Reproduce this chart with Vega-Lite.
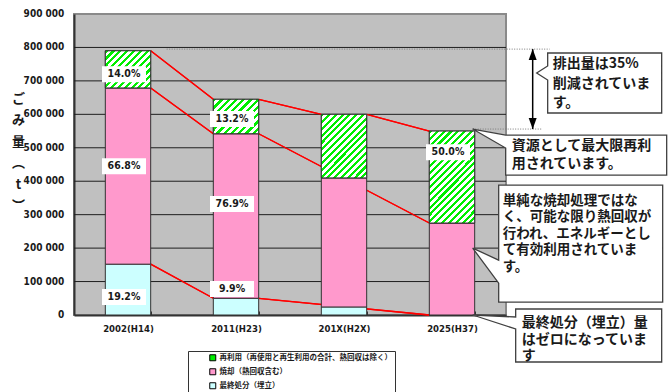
{
  "$schema": "https://vega.github.io/schema/vega-lite/v6.json",
  "width": 432,
  "height": 301,
  "autosize": {"type": "none"},
  "padding": {"left": 74, "top": 14, "right": 166, "bottom": 77},
  "background": "white",
  "title": {"text": "ごみ処理方法の推移", "font": "Noto Sans CJK JP", "fontSize": 13, "fontWeight": "bold", "color": "#1a1a1a", "anchor": "middle", "dx": 13, "offset": 9, "baseline": "bottom"},
  "datasets": {
    "ticks": [{"v": 0}, {"v": 100000}, {"v": 200000}, {"v": 300000}, {"v": 400000}, {"v": 500000}, {"v": 600000}, {"v": 700000}, {"v": 800000}, {"v": 900000}],
    "bars": [
      {"year": "2002(H14)", "type": "最終処分（埋立）", "rank": 1, "value": 152000},
      {"year": "2002(H14)", "type": "焼却（熱回収含む）", "rank": 2, "value": 527000},
      {"year": "2002(H14)", "type": "再利用（再使用と再生利用の合計、熱回収は除く）", "rank": 3, "value": 111000},
      {"year": "2011(H23)", "type": "最終処分（埋立）", "rank": 1, "value": 50000},
      {"year": "2011(H23)", "type": "焼却（熱回収含む）", "rank": 2, "value": 492000},
      {"year": "2011(H23)", "type": "再利用（再使用と再生利用の合計、熱回収は除く）", "rank": 3, "value": 103000},
      {"year": "201X(H2X)", "type": "最終処分（埋立）", "rank": 1, "value": 24000},
      {"year": "201X(H2X)", "type": "焼却（熱回収含む）", "rank": 2, "value": 386000},
      {"year": "201X(H2X)", "type": "再利用（再使用と再生利用の合計、熱回収は除く）", "rank": 3, "value": 190000},
      {"year": "2025(H37)", "type": "最終処分（埋立）", "rank": 1, "value": 0},
      {"year": "2025(H37)", "type": "焼却（熱回収含む）", "rank": 2, "value": 275000},
      {"year": "2025(H37)", "type": "再利用（再使用と再生利用の合計、熱回収は除く）", "rank": 3, "value": 275000}
    ],
    "links": [
      {"from": "2002(H14)", "to": "2011(H23)", "a": 790000, "b": 645000},
      {"from": "2011(H23)", "to": "201X(H2X)", "a": 645000, "b": 600000},
      {"from": "201X(H2X)", "to": "2025(H37)", "a": 600000, "b": 550000},
      {"from": "2002(H14)", "to": "2011(H23)", "a": 679000, "b": 542000},
      {"from": "2011(H23)", "to": "2025(H37)", "a": 542000, "b": 275000},
      {"from": "2002(H14)", "to": "2011(H23)", "a": 152000, "b": 50000},
      {"from": "2011(H23)", "to": "2025(H37)", "a": 50000, "b": 0}
    ],
    "labels": [
      {"year": "2002(H14)", "pct": "14.0%", "at": 720000},
      {"year": "2002(H14)", "pct": "66.8%", "at": 445000},
      {"year": "2002(H14)", "pct": "19.2%", "at": 54000},
      {"year": "2011(H23)", "pct": "13.2%", "at": 586000},
      {"year": "2011(H23)", "pct": "76.9%", "at": 332000},
      {"year": "2011(H23)", "pct": "9.9%", "at": 78000},
      {"year": "2025(H37)", "pct": "50.0%", "at": 487000}
    ]
  },
  "layer": [
    {
      "data": {"name": "links"},
      "mark": {"type": "rule", "color": "#ff0000", "strokeWidth": 1.3},
      "encoding": {
        "x": {"field": "from", "type": "nominal", "bandPosition": 1, "scale": {"paddingInner": 0.58, "paddingOuter": 0.29},
          "axis": {"title": null, "labelFont": "'Liberation Sans Narrow', 'DejaVu Sans Condensed', 'Liberation Sans', sans-serif", "labelFontSize": 9.5, "labelFontWeight": "bold", "labelColor": "#1a1a1a", "labelAngle": 0, "labelPadding": 12, "tickBand": "extent", "tickSize": -4, "tickColor": "#333333", "tickWidth": 1, "domainColor": "#333333", "domainWidth": 2, "grid": false}},
        "x2": {"field": "to", "bandPosition": 0},
        "y": {"field": "a", "type": "quantitative", "scale": {"domain": [0, 900000], "nice": false},
          "axis": {"labels": false, "ticks": false, "grid": false, "domainColor": "#333333", "domainWidth": 2,
            "title": ["ご", "み", "量", "︵", "t", "︶"], "titleAngle": 0, "titleX": -56, "titleY": 78, "titleAlign": "center", "titleBaseline": "top", "titleFont": "Noto Sans CJK JP", "titleFontSize": 13, "titleFontWeight": "bold", "titleLineHeight": 21.5, "titleColor": "#1a1a1a"}},
        "y2": {"field": "b"}
      }
    },
    {
      "data": {"name": "ticks"},
      "transform": [{"filter": "datum.v > 0 && datum.v < 900000"}],
      "mark": {"type": "rule", "color": "#1e1e1e", "strokeWidth": 1},
      "encoding": {"y": {"field": "v", "type": "quantitative"}}
    },
    {
      "data": {"name": "ticks"},
      "mark": {"type": "text", "align": "right", "baseline": "middle", "font": "'Liberation Sans Narrow', 'DejaVu Sans Condensed', 'Liberation Sans', sans-serif", "fontSize": 10, "fontWeight": "bold", "color": "#1a1a1a", "xOffset": -41},
      "encoding": {"x": {"datum": "2002(H14)", "type": "nominal", "bandPosition": 0}, "y": {"field": "v", "type": "quantitative"}, "text": {"field": "v", "type": "quantitative", "format": ",d"}}
    },
    {
      "data": {"name": "links"},
      "mark": {"type": "rule", "color": "#ff0000", "strokeWidth": 1.3},
      "encoding": {"x": {"field": "from", "type": "nominal", "bandPosition": 1}, "x2": {"field": "to", "bandPosition": 0}, "y": {"field": "a", "type": "quantitative"}, "y2": {"field": "b"}}
    },
    {
      "data": {"name": "bars"},
      "transform": [{"stack": "value", "groupby": ["year"], "sort": [{"field": "rank", "order": "ascending"}], "as": ["v0", "v1"]}],
      "mark": {"type": "bar", "stroke": "#333333", "strokeWidth": 1},
      "encoding": {
        "x": {"field": "year", "type": "nominal"},
        "y": {"field": "v1", "type": "quantitative"},
        "y2": {"field": "v0"},
        "color": {"field": "type", "type": "nominal",
          "scale": {"domain": ["再利用（再使用と再生利用の合計、熱回収は除く）", "焼却（熱回収含む）", "最終処分（埋立）"], "range": ["#00ee00", "#ff99cc", "#ccffff"]},
          "legend": {"title": null, "orient": "none", "legendX": 114, "legendY": 337, "direction": "vertical", "fillColor": "white", "strokeColor": "#333333", "padding": 3, "symbolType": "square", "symbolSize": 36, "symbolStrokeColor": "#000000", "symbolStrokeWidth": 1, "symbolOpacity": 1, "symbolOffset": 18, "labelFont": "Noto Sans CJK JP", "labelFontSize": 7.5, "labelFontWeight": "bold", "labelColor": "#1a1a1a", "labelLimit": 400, "rowPadding": 3, "labelOffset": 3}}
      }
    },
    {
      "data": {"name": "bars"},
      "transform": [{"stack": "value", "groupby": ["year"], "sort": [{"field": "rank", "order": "ascending"}], "as": ["v0", "v1"]}, {"filter": "datum.rank == 3 && datum.year == '2002(H14)'"}],
      "mark": {"type": "bar", "stroke": "#333333", "strokeWidth": 1, "fill": {"gradient": "linear", "x1": 0, "y1": 0, "x2": 1.092, "y2": 0.888, "stops": [
        {"offset": 0, "color": "#0e0"}, {"offset": 0.0375, "color": "#0e0"}, {"offset": 0.0375, "color": "#fff"}, {"offset": 0.0833, "color": "#fff"},
        {"offset": 0.0833, "color": "#0e0"}, {"offset": 0.1208, "color": "#0e0"}, {"offset": 0.1208, "color": "#fff"}, {"offset": 0.1667, "color": "#fff"},
        {"offset": 0.1667, "color": "#0e0"}, {"offset": 0.2042, "color": "#0e0"}, {"offset": 0.2042, "color": "#fff"}, {"offset": 0.25, "color": "#fff"},
        {"offset": 0.25, "color": "#0e0"}, {"offset": 0.2875, "color": "#0e0"}, {"offset": 0.2875, "color": "#fff"}, {"offset": 0.3333, "color": "#fff"},
        {"offset": 0.3333, "color": "#0e0"}, {"offset": 0.3708, "color": "#0e0"}, {"offset": 0.3708, "color": "#fff"}, {"offset": 0.4167, "color": "#fff"},
        {"offset": 0.4167, "color": "#0e0"}, {"offset": 0.4542, "color": "#0e0"}, {"offset": 0.4542, "color": "#fff"}, {"offset": 0.5, "color": "#fff"},
        {"offset": 0.5, "color": "#0e0"}, {"offset": 0.5375, "color": "#0e0"}, {"offset": 0.5375, "color": "#fff"}, {"offset": 0.5833, "color": "#fff"},
        {"offset": 0.5833, "color": "#0e0"}, {"offset": 0.6208, "color": "#0e0"}, {"offset": 0.6208, "color": "#fff"}, {"offset": 0.6667, "color": "#fff"},
        {"offset": 0.6667, "color": "#0e0"}, {"offset": 0.7042, "color": "#0e0"}, {"offset": 0.7042, "color": "#fff"}, {"offset": 0.75, "color": "#fff"},
        {"offset": 0.75, "color": "#0e0"}, {"offset": 0.7875, "color": "#0e0"}, {"offset": 0.7875, "color": "#fff"}, {"offset": 0.8333, "color": "#fff"},
        {"offset": 0.8333, "color": "#0e0"}, {"offset": 0.8708, "color": "#0e0"}, {"offset": 0.8708, "color": "#fff"}, {"offset": 0.9167, "color": "#fff"},
        {"offset": 0.9167, "color": "#0e0"}, {"offset": 0.9542, "color": "#0e0"}, {"offset": 0.9542, "color": "#fff"}, {"offset": 1, "color": "#fff"}]}},
      "encoding": {"x": {"field": "year", "type": "nominal"}, "y": {"field": "v1", "type": "quantitative"}, "y2": {"field": "v0"}}
    },
    {
      "data": {"name": "bars"},
      "transform": [{"stack": "value", "groupby": ["year"], "sort": [{"field": "rank", "order": "ascending"}], "as": ["v0", "v1"]}, {"filter": "datum.rank == 3 && datum.year == '2011(H23)'"}],
      "mark": {"type": "bar", "stroke": "#333333", "strokeWidth": 1, "fill": {"gradient": "linear", "x1": 0, "y1": 0, "x2": 1.118, "y2": 0.843, "stops": [
        {"offset": 0, "color": "#0e0"}, {"offset": 0.0409, "color": "#0e0"}, {"offset": 0.0409, "color": "#fff"}, {"offset": 0.0909, "color": "#fff"},
        {"offset": 0.0909, "color": "#0e0"}, {"offset": 0.1318, "color": "#0e0"}, {"offset": 0.1318, "color": "#fff"}, {"offset": 0.1818, "color": "#fff"},
        {"offset": 0.1818, "color": "#0e0"}, {"offset": 0.2227, "color": "#0e0"}, {"offset": 0.2227, "color": "#fff"}, {"offset": 0.2727, "color": "#fff"},
        {"offset": 0.2727, "color": "#0e0"}, {"offset": 0.3136, "color": "#0e0"}, {"offset": 0.3136, "color": "#fff"}, {"offset": 0.3636, "color": "#fff"},
        {"offset": 0.3636, "color": "#0e0"}, {"offset": 0.4045, "color": "#0e0"}, {"offset": 0.4045, "color": "#fff"}, {"offset": 0.4545, "color": "#fff"},
        {"offset": 0.4545, "color": "#0e0"}, {"offset": 0.4955, "color": "#0e0"}, {"offset": 0.4955, "color": "#fff"}, {"offset": 0.5455, "color": "#fff"},
        {"offset": 0.5455, "color": "#0e0"}, {"offset": 0.5864, "color": "#0e0"}, {"offset": 0.5864, "color": "#fff"}, {"offset": 0.6364, "color": "#fff"},
        {"offset": 0.6364, "color": "#0e0"}, {"offset": 0.6773, "color": "#0e0"}, {"offset": 0.6773, "color": "#fff"}, {"offset": 0.7273, "color": "#fff"},
        {"offset": 0.7273, "color": "#0e0"}, {"offset": 0.7682, "color": "#0e0"}, {"offset": 0.7682, "color": "#fff"}, {"offset": 0.8182, "color": "#fff"},
        {"offset": 0.8182, "color": "#0e0"}, {"offset": 0.8591, "color": "#0e0"}, {"offset": 0.8591, "color": "#fff"}, {"offset": 0.9091, "color": "#fff"},
        {"offset": 0.9091, "color": "#0e0"}, {"offset": 0.95, "color": "#0e0"}, {"offset": 0.95, "color": "#fff"}, {"offset": 1, "color": "#fff"}]}},
      "encoding": {"x": {"field": "year", "type": "nominal"}, "y": {"field": "v1", "type": "quantitative"}, "y2": {"field": "v0"}}
    },
    {
      "data": {"name": "bars"},
      "transform": [{"stack": "value", "groupby": ["year"], "sort": [{"field": "rank", "order": "ascending"}], "as": ["v0", "v1"]}, {"filter": "datum.rank == 3 && datum.year == '201X(H2X)'"}],
      "mark": {"type": "bar", "stroke": "#333333", "strokeWidth": 1, "fill": {"gradient": "linear", "x1": 0, "y1": 0, "x2": 0.814, "y2": 1.134, "stops": [
        {"offset": 0, "color": "#0e0"}, {"offset": 0.0281, "color": "#0e0"}, {"offset": 0.0281, "color": "#fff"}, {"offset": 0.0625, "color": "#fff"},
        {"offset": 0.0625, "color": "#0e0"}, {"offset": 0.0906, "color": "#0e0"}, {"offset": 0.0906, "color": "#fff"}, {"offset": 0.125, "color": "#fff"},
        {"offset": 0.125, "color": "#0e0"}, {"offset": 0.1531, "color": "#0e0"}, {"offset": 0.1531, "color": "#fff"}, {"offset": 0.1875, "color": "#fff"},
        {"offset": 0.1875, "color": "#0e0"}, {"offset": 0.2156, "color": "#0e0"}, {"offset": 0.2156, "color": "#fff"}, {"offset": 0.25, "color": "#fff"},
        {"offset": 0.25, "color": "#0e0"}, {"offset": 0.2781, "color": "#0e0"}, {"offset": 0.2781, "color": "#fff"}, {"offset": 0.3125, "color": "#fff"},
        {"offset": 0.3125, "color": "#0e0"}, {"offset": 0.3406, "color": "#0e0"}, {"offset": 0.3406, "color": "#fff"}, {"offset": 0.375, "color": "#fff"},
        {"offset": 0.375, "color": "#0e0"}, {"offset": 0.4031, "color": "#0e0"}, {"offset": 0.4031, "color": "#fff"}, {"offset": 0.4375, "color": "#fff"},
        {"offset": 0.4375, "color": "#0e0"}, {"offset": 0.4656, "color": "#0e0"}, {"offset": 0.4656, "color": "#fff"}, {"offset": 0.5, "color": "#fff"},
        {"offset": 0.5, "color": "#0e0"}, {"offset": 0.5281, "color": "#0e0"}, {"offset": 0.5281, "color": "#fff"}, {"offset": 0.5625, "color": "#fff"},
        {"offset": 0.5625, "color": "#0e0"}, {"offset": 0.5906, "color": "#0e0"}, {"offset": 0.5906, "color": "#fff"}, {"offset": 0.625, "color": "#fff"},
        {"offset": 0.625, "color": "#0e0"}, {"offset": 0.6531, "color": "#0e0"}, {"offset": 0.6531, "color": "#fff"}, {"offset": 0.6875, "color": "#fff"},
        {"offset": 0.6875, "color": "#0e0"}, {"offset": 0.7156, "color": "#0e0"}, {"offset": 0.7156, "color": "#fff"}, {"offset": 0.75, "color": "#fff"},
        {"offset": 0.75, "color": "#0e0"}, {"offset": 0.7781, "color": "#0e0"}, {"offset": 0.7781, "color": "#fff"}, {"offset": 0.8125, "color": "#fff"},
        {"offset": 0.8125, "color": "#0e0"}, {"offset": 0.8406, "color": "#0e0"}, {"offset": 0.8406, "color": "#fff"}, {"offset": 0.875, "color": "#fff"},
        {"offset": 0.875, "color": "#0e0"}, {"offset": 0.9031, "color": "#0e0"}, {"offset": 0.9031, "color": "#fff"}, {"offset": 0.9375, "color": "#fff"},
        {"offset": 0.9375, "color": "#0e0"}, {"offset": 0.9656, "color": "#0e0"}, {"offset": 0.9656, "color": "#fff"}, {"offset": 1, "color": "#fff"}]}},
      "encoding": {"x": {"field": "year", "type": "nominal"}, "y": {"field": "v1", "type": "quantitative"}, "y2": {"field": "v0"}}
    },
    {
      "data": {"name": "bars"},
      "transform": [{"stack": "value", "groupby": ["year"], "sort": [{"field": "rank", "order": "ascending"}], "as": ["v0", "v1"]}, {"filter": "datum.rank == 3 && datum.year == '2025(H37)'"}],
      "mark": {"type": "bar", "stroke": "#333333", "strokeWidth": 1, "fill": {"gradient": "linear", "x1": 0, "y1": 0, "x2": 0.595, "y2": 1.201, "stops": [
        {"offset": 0, "color": "#0e0"}, {"offset": 0.0225, "color": "#0e0"}, {"offset": 0.0225, "color": "#fff"}, {"offset": 0.05, "color": "#fff"},
        {"offset": 0.05, "color": "#0e0"}, {"offset": 0.0725, "color": "#0e0"}, {"offset": 0.0725, "color": "#fff"}, {"offset": 0.1, "color": "#fff"},
        {"offset": 0.1, "color": "#0e0"}, {"offset": 0.1225, "color": "#0e0"}, {"offset": 0.1225, "color": "#fff"}, {"offset": 0.15, "color": "#fff"},
        {"offset": 0.15, "color": "#0e0"}, {"offset": 0.1725, "color": "#0e0"}, {"offset": 0.1725, "color": "#fff"}, {"offset": 0.2, "color": "#fff"},
        {"offset": 0.2, "color": "#0e0"}, {"offset": 0.2225, "color": "#0e0"}, {"offset": 0.2225, "color": "#fff"}, {"offset": 0.25, "color": "#fff"},
        {"offset": 0.25, "color": "#0e0"}, {"offset": 0.2725, "color": "#0e0"}, {"offset": 0.2725, "color": "#fff"}, {"offset": 0.3, "color": "#fff"},
        {"offset": 0.3, "color": "#0e0"}, {"offset": 0.3225, "color": "#0e0"}, {"offset": 0.3225, "color": "#fff"}, {"offset": 0.35, "color": "#fff"},
        {"offset": 0.35, "color": "#0e0"}, {"offset": 0.3725, "color": "#0e0"}, {"offset": 0.3725, "color": "#fff"}, {"offset": 0.4, "color": "#fff"},
        {"offset": 0.4, "color": "#0e0"}, {"offset": 0.4225, "color": "#0e0"}, {"offset": 0.4225, "color": "#fff"}, {"offset": 0.45, "color": "#fff"},
        {"offset": 0.45, "color": "#0e0"}, {"offset": 0.4725, "color": "#0e0"}, {"offset": 0.4725, "color": "#fff"}, {"offset": 0.5, "color": "#fff"},
        {"offset": 0.5, "color": "#0e0"}, {"offset": 0.5225, "color": "#0e0"}, {"offset": 0.5225, "color": "#fff"}, {"offset": 0.55, "color": "#fff"},
        {"offset": 0.55, "color": "#0e0"}, {"offset": 0.5725, "color": "#0e0"}, {"offset": 0.5725, "color": "#fff"}, {"offset": 0.6, "color": "#fff"},
        {"offset": 0.6, "color": "#0e0"}, {"offset": 0.6225, "color": "#0e0"}, {"offset": 0.6225, "color": "#fff"}, {"offset": 0.65, "color": "#fff"},
        {"offset": 0.65, "color": "#0e0"}, {"offset": 0.6725, "color": "#0e0"}, {"offset": 0.6725, "color": "#fff"}, {"offset": 0.7, "color": "#fff"},
        {"offset": 0.7, "color": "#0e0"}, {"offset": 0.7225, "color": "#0e0"}, {"offset": 0.7225, "color": "#fff"}, {"offset": 0.75, "color": "#fff"},
        {"offset": 0.75, "color": "#0e0"}, {"offset": 0.7725, "color": "#0e0"}, {"offset": 0.7725, "color": "#fff"}, {"offset": 0.8, "color": "#fff"},
        {"offset": 0.8, "color": "#0e0"}, {"offset": 0.8225, "color": "#0e0"}, {"offset": 0.8225, "color": "#fff"}, {"offset": 0.85, "color": "#fff"},
        {"offset": 0.85, "color": "#0e0"}, {"offset": 0.8725, "color": "#0e0"}, {"offset": 0.8725, "color": "#fff"}, {"offset": 0.9, "color": "#fff"},
        {"offset": 0.9, "color": "#0e0"}, {"offset": 0.9225, "color": "#0e0"}, {"offset": 0.9225, "color": "#fff"}, {"offset": 0.95, "color": "#fff"},
        {"offset": 0.95, "color": "#0e0"}, {"offset": 0.9725, "color": "#0e0"}, {"offset": 0.9725, "color": "#fff"}, {"offset": 1, "color": "#fff"}]}},
      "encoding": {"x": {"field": "year", "type": "nominal"}, "y": {"field": "v1", "type": "quantitative"}, "y2": {"field": "v0"}}
    },
    {
      "data": {"values": [{}]},
      "mark": {"type": "rule", "color": "#7a7a7a", "strokeWidth": 1, "strokeDash": [1, 1.5], "xOffset": 16, "x2Offset": 75},
      "encoding": {"x": {"datum": "2002(H14)", "type": "nominal", "bandPosition": 1}, "x2": {"datum": "2025(H37)", "bandPosition": 1}, "y": {"datum": 795000, "type": "quantitative"}}
    },
    {
      "data": {"values": [{}]},
      "mark": {"type": "rule", "color": "#7a7a7a", "strokeWidth": 1, "strokeDash": [1, 1.5], "xOffset": -2, "x2Offset": 68},
      "encoding": {"x": {"datum": "2025(H37)", "type": "nominal", "bandPosition": 1}, "x2": {"datum": "2025(H37)", "bandPosition": 1}, "y": {"datum": 556000, "type": "quantitative"}}
    },
    {
      "data": {"name": "labels"},
      "mark": {"type": "point", "shape": "M-22,-8H22V8H-22Z", "size": 4, "filled": true, "fill": "#ffffff", "opacity": 1, "strokeWidth": 0, "xOffset": -4},
      "encoding": {"x": {"field": "year", "type": "nominal"}, "y": {"field": "at", "type": "quantitative"}}
    },
    {
      "data": {"name": "labels"},
      "mark": {"type": "text", "font": "'Liberation Sans Narrow', 'DejaVu Sans Condensed', 'Liberation Sans', sans-serif", "fontWeight": "bold", "fontSize": 10.5, "color": "#1a1a1a", "xOffset": -4, "baseline": "middle"},
      "encoding": {"x": {"field": "year", "type": "nominal"}, "y": {"field": "at", "type": "quantitative"}, "text": {"field": "pct"}}
    },
    {
      "data": {"values": [{}]},
      "mark": {"type": "rule", "color": "#000000", "strokeWidth": 1.5, "xOffset": 58},
      "encoding": {"x": {"datum": "2025(H37)", "type": "nominal", "bandPosition": 1}, "y": {"datum": 795000, "type": "quantitative"}, "y2": {"datum": 556000}}
    },
    {
      "data": {"values": [{}]},
      "mark": {"type": "point", "shape": "M0,0L-4,11L4,11Z", "size": 4, "filled": true, "fill": "#000000", "opacity": 1, "strokeWidth": 0, "xOffset": 58},
      "encoding": {"x": {"datum": "2025(H37)", "type": "nominal", "bandPosition": 1}, "y": {"datum": 795000, "type": "quantitative"}}
    },
    {
      "data": {"values": [{}]},
      "mark": {"type": "point", "shape": "M0,0L-4,-11L4,-11Z", "size": 4, "filled": true, "fill": "#000000", "opacity": 1, "strokeWidth": 0, "xOffset": 58},
      "encoding": {"x": {"datum": "2025(H37)", "type": "nominal", "bandPosition": 1}, "y": {"datum": 556000, "type": "quantitative"}}
    },
    {
      "data": {"values": [{}]},
      "mark": {"type": "point", "shape": "M11,-20H125V40H11V7L0,0L11,-7Z", "size": 4, "filled": true, "fill": "#ffffff", "stroke": "#404040", "strokeWidth": 1.3, "opacity": 1, "xOffset": 62},
      "encoding": {"x": {"datum": "2025(H37)", "type": "nominal", "bandPosition": 1}, "y": {"datum": 723600, "type": "quantitative"}}
    },
    {
      "data": {"values": [{}]},
      "mark": {"type": "text", "text": ["排出量は35%", "削減されていま", "す。"], "font": "Noto Sans CJK JP", "fontWeight": "bold", "fontSize": 14, "lineHeight": 19.5, "color": "#1a1a1a", "align": "left", "baseline": "top", "xOffset": 62, "dx": 16, "dy": -15.7},
      "encoding": {"x": {"datum": "2025(H37)", "type": "nominal", "bandPosition": 1}, "y": {"datum": 723600, "type": "quantitative"}}
    },
    {
      "data": {"values": [{}]},
      "mark": {"type": "point", "shape": "M0,0L33,6H194V46H33V19Z", "size": 4, "filled": true, "fill": "#ffffff", "stroke": "#404040", "strokeWidth": 1.3, "opacity": 1, "xOffset": -2},
      "encoding": {"x": {"datum": "2025(H37)", "type": "nominal", "bandPosition": 1}, "y": {"datum": 556000, "type": "quantitative"}}
    },
    {
      "data": {"values": [{}]},
      "mark": {"type": "text", "text": ["資源として最大限再利", "用されています。"], "font": "Noto Sans CJK JP", "fontWeight": "bold", "fontSize": 14, "lineHeight": 18, "color": "#1a1a1a", "align": "left", "baseline": "top", "xOffset": -2, "dx": 39, "dy": 10.3},
      "encoding": {"x": {"datum": "2025(H37)", "type": "nominal", "bandPosition": 1}, "y": {"datum": 556000, "type": "quantitative"}}
    },
    {
      "data": {"values": [{}]},
      "mark": {"type": "point", "shape": "M0,0L26,12V-63H190V54H26V35Z", "size": 4, "filled": true, "fill": "#ffffff", "stroke": "#404040", "strokeWidth": 1.3, "opacity": 1, "xOffset": -2},
      "encoding": {"x": {"datum": "2025(H37)", "type": "nominal", "bandPosition": 1}, "y": {"datum": 200000, "type": "quantitative"}}
    },
    {
      "data": {"values": [{}]},
      "mark": {"type": "text", "text": ["単純な焼却処理ではな", "く、可能な限り熱回収が", "行われ、エネルギーとし", "て有効利用されていま", "す。"], "font": "Noto Sans CJK JP", "fontWeight": "bold", "fontSize": 13.5, "lineHeight": 16.5, "color": "#1a1a1a", "align": "left", "baseline": "top", "xOffset": -2, "dx": 30, "dy": -54.5},
      "encoding": {"x": {"datum": "2025(H37)", "type": "nominal", "bandPosition": 1}, "y": {"datum": 200000, "type": "quantitative"}}
    },
    {
      "data": {"values": [{}]},
      "mark": {"type": "point", "shape": "M0,0L43,2V-6H189V47H43V14Z", "size": 4, "filled": true, "fill": "#ffffff", "stroke": "#404040", "strokeWidth": 1.3, "opacity": 1, "xOffset": -2},
      "encoding": {"x": {"datum": "2025(H37)", "type": "nominal", "bandPosition": 1}, "y": {"datum": 0, "type": "quantitative"}}
    },
    {
      "data": {"values": [{}]},
      "mark": {"type": "text", "text": ["最終処分（埋立）量", "はゼロになっていま", "す"], "font": "Noto Sans CJK JP", "fontWeight": "bold", "fontSize": 14, "lineHeight": 16.5, "color": "#1a1a1a", "align": "left", "baseline": "top", "xOffset": -2, "dx": 49, "dy": 1.3},
      "encoding": {"x": {"datum": "2025(H37)", "type": "nominal", "bandPosition": 1}, "y": {"datum": 0, "type": "quantitative"}}
    }
  ],
  "config": {
    "view": {"fill": "#c0c0c0", "stroke": "#8a8a8a", "strokeWidth": 2},
    "axisY": {"labels": false, "grid": false, "ticks": false},
    "locale": {"number": {"decimal": ".", "thousands": " ", "grouping": [3], "currency": ["", ""]}}
  }
}
